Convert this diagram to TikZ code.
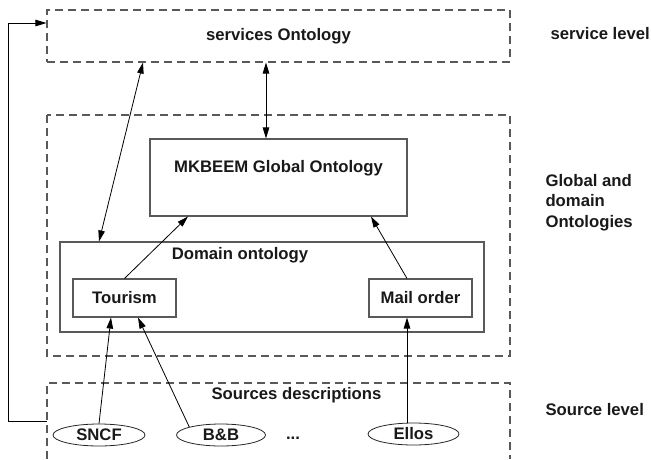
\documentclass[tikz,border=0pt]{standalone}
\usepackage{fontspec}
\setmainfont{Liberation Sans}
\usetikzlibrary{arrows.meta,shapes.geometric,calc}
\begin{document}
\begin{tikzpicture}[x=1pt,y=-1pt,
  font=\fontsize{16.7}{20.5}\selectfont\bfseries,
  every node/.style={text=black!90},
  dbox/.style={draw=black!65, line width=1.1pt, dash pattern=on 8pt off 5pt},
  sbox/.style={draw=black!65, line width=1.1pt, rectangle, inner sep=0pt},
  src/.style={draw=black!85, line width=0.8pt, ellipse, inner sep=0pt, minimum width=91pt, minimum height=22pt},
  conn/.style={draw=black, line width=0.8pt, -{Triangle[length=11pt,width=6.5pt]}},
  biconn/.style={draw=black, line width=0.8pt, {Triangle[length=11pt,width=6.5pt]}-{Triangle[length=11pt,width=6.5pt]}},
  lvl/.style={anchor=base west, align=left}
]
\useasboundingbox (0,0) rectangle (651,459);

% service level
\node[dbox, rectangle, inner sep=0pt, minimum width=463pt, minimum height=52pt] (svc) at (278.5,36) {};
\node (svct) at (278.5,36) {services Ontology};

% global and domain level (dashed frame)
\draw[dbox] (47,115) rectangle (510,356);
\node[sbox, minimum width=257pt, minimum height=77pt] (glob) at (278.5,177.5) {};
\node (globt) at (278.5,168) {MKBEEM Global Ontology};
\node[sbox, minimum width=424pt, minimum height=90pt] (dom) at (272,287) {};
\node (domt) at (240,255) {Domain ontology};
\node[sbox, minimum width=103pt, minimum height=38pt] (tour) at (124.5,298) {Tourism};
\node[sbox, minimum width=103pt, minimum height=38pt] (mail) at (420.5,298) {Mail order};

% source level (open at the bottom)
\draw[dbox] (47,459) -- (47,383) -- (510,383) -- (510,459);
\node (srct) at (296.5,395) {Sources descriptions};
\node[src, minimum width=92pt] (sncf) at (99,435) {SNCF};
\node[src, minimum width=89pt] (bb) at (221,435) {B\&B};
\node[anchor=base] (dots) at (293,439) {...};
\node[src] (ellos) at (413.5,434) {Ellos};

% level labels
\node[lvl] (l1) at (547,39) {service level};
\node[lvl] (l2) at (542,227) {Global and\\domain\\Ontologies};
\node[lvl] (l3) at (542,415) {Source level};

% connectors
\draw[biconn] ([xshift=-173pt]dom.north) -- ([xshift=-135.5pt]svc.south);
\draw[biconn] ([xshift=-12.5pt]glob.north) -- ([xshift=-12.5pt]svc.south);
\draw[conn] (tour.north) -- ([xshift=-90.5pt]glob.south);
\draw[conn] ([xshift=-13.5pt]mail.north) -- ([xshift=92.5pt]glob.south);
\draw[conn] (sncf.north) -- ([xshift=-13.5pt]tour.south);
\draw[conn] (bb.north west) -- ([xshift=13.5pt]tour.south);
\coordinate (mb) at ([xshift=-13.5pt]mail.south);
\draw[conn] (ellos.north -| mb) -- (mb);
\coordinate (fb) at (47,421);
\draw[conn] (fb) -- ++(-39pt,0) |- ([yshift=13pt]svc.west);
\end{tikzpicture}
\end{document}
